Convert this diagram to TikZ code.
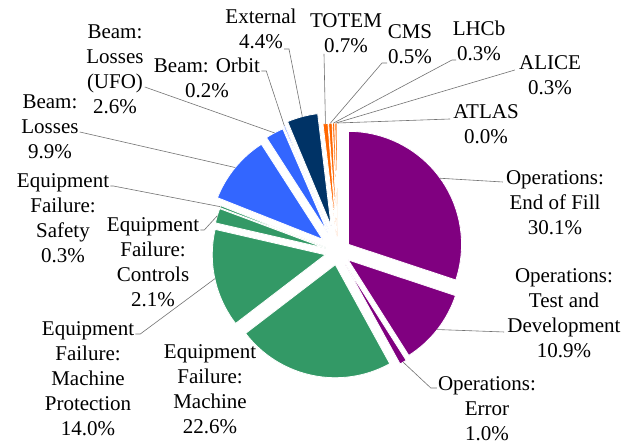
\documentclass[tikz,border=0pt]{standalone}
\usepackage{fontspec}
\setmainfont{Liberation Serif}
\usetikzlibrary{calc}

\definecolor{opsc}{RGB}{128,0,128}
\definecolor{eqc}{RGB}{51,153,102}
\definecolor{beamc}{RGB}{51,102,255}
\definecolor{extc}{RGB}{0,51,102}
\definecolor{expc}{RGB}{255,102,0}

\begin{document}
\begin{tikzpicture}[
    x=1pt, y=1pt,
    lbl/.style={
        align=center,
        inner sep=0pt,
        anchor=base,
        font=\fontsize{21}{25}\selectfont
    },
    leader/.style={draw=black!55, line width=0.6pt},
    slice/.style={draw=white, line width=0.8pt}
]

\path[use as bounding box, fill=white] (0,0) rectangle (633,446);
\coordinate (ctr) at (338,194);

% slices, clockwise from the top: name/percent/colour/explode
\def\pierad{113}
\def\curang{90}
\foreach \nm/\pc/\col/\ex in {eof/30.1/opsc/13, td/10.9/opsc/13, err/1.0/opsc/15,
    mach/22.6/eqc/13, mp/14.0/eqc/13, ctl/2.1/eqc/13, saf/0.3/eqc/13,
    bl/9.9/beamc/20, ufo/2.6/beamc/22, orb/0.2/beamc/24, ext/4.4/extc/27,
    totem/0.7/expc/16, cms/0.5/expc/16, lhcb/0.3/expc/16, alice/0.3/expc/16,
    atlas/0.1/expc/16}{
  \pgfmathsetmacro\endang{\curang-3.6*\pc}
  \pgfmathsetmacro\midang{(\curang+\endang)/2}
  \fill[\col, slice] ($(ctr)+(\midang:\ex)$) -- ++(\curang:\pierad)
      arc[start angle=\curang, end angle=\endang, radius=\pierad] -- cycle;
  \coordinate (\nm-p) at ($(ctr)+(\midang:{\pierad+\ex})$);
  \xdef\curang{\endang}
}

\node[lbl] (eofL) at (555,211) {Operations:\\End of Fill\\30.1\%};
\node[lbl] (tdL) at (564,88) {Operations:\\Test and\\Development\\10.9\%};
\node[lbl] (errL) at (487,5) {Operations:\\Error\\1.0\%};
\node[lbl] (machL) at (210,12) {Equipment\\Failure:\\Machine\\22.6\%};
\node[lbl] (mpL) at (88,10) {Equipment\\Failure:\\Machine\\Protection\\14.0\%};
\node[lbl] (ctlL) at (153,139) {Equipment\\Failure:\\Controls\\2.1\%};
\node[lbl] (safL) at (63,183) {Equipment\\Failure:\\Safety\\0.3\%};
\node[lbl] (blL) at (50,287) {Beam:\\Losses\\9.9\%};
\node[lbl] (ufoL) at (115,332) {Beam:\\Losses\\(UFO)\\2.6\%};
\node[lbl] (orbL) at (207,348) {Beam: Orbit\\0.2\%};
\node[lbl] (extL) at (261,397) {External\\4.4\%};
\node[lbl] (totL) at (346,393) {TOTEM\\0.7\%};
\node[lbl] (cmsL) at (410,382) {CMS\\0.5\%};
\node[lbl] (lhcbL) at (479,385) {LHCb\\0.3\%};
\node[lbl] (aliL) at (550,351) {ALICE\\0.3\%};
\node[lbl] (atlL) at (486,302) {ATLAS\\0.0\%};

% leader lines
\draw[leader] (eof-p) -- ([xshift=-3pt,yshift=53pt]eofL.base west);
\draw[leader] (td-p) -- ([xshift=-3pt,yshift=26pt]tdL.base west);
\draw[leader] (err-p) -- ([xshift=-7pt,yshift=53pt]errL.base west) -- ([xshift=-1pt,yshift=53pt]errL.base west);
\draw[leader] ([xshift=1pt,yshift=102pt]mpL.base east) -- ++(5,0) -- (mp-p);
\draw[leader] ([xshift=1pt,yshift=77pt]ctlL.base east) -- ++(4,0) -- (ctl-p);
\draw[leader] ([xshift=1pt,yshift=77pt]safL.base east) -- ++(3,0) -- (saf-p);
\draw[leader] ([xshift=1pt,yshift=27pt]blL.base east) -- (bl-p);
\draw[leader] ([xshift=1pt,yshift=27pt]ufoL.base east) -- (ufo-p);
\draw[leader] ([xshift=1pt,yshift=27pt]orbL.base east) -- ++(5,0) -- (orb-p);
\draw[leader] ([xshift=23pt]extL.base) -- ++(5,0) -- (ext-p);
\draw[leader] ([xshift=-22pt,yshift=-1pt]totL.base) -- (totem-p);
\draw[leader] ([xshift=-23pt,yshift=1pt]cmsL.base) -- ++(-5,0) -- (cms-p);
\draw[leader] ([xshift=-23pt,yshift=1pt]lhcbL.base) -- ++(-4,0) -- (lhcb-p);
\draw[leader] ([xshift=-4pt,yshift=25pt]aliL.base west) -- (alice-p);
\draw[leader] ([xshift=-3pt,yshift=25pt]atlL.base west) -- (atlas-p);

\end{tikzpicture}
\end{document}
